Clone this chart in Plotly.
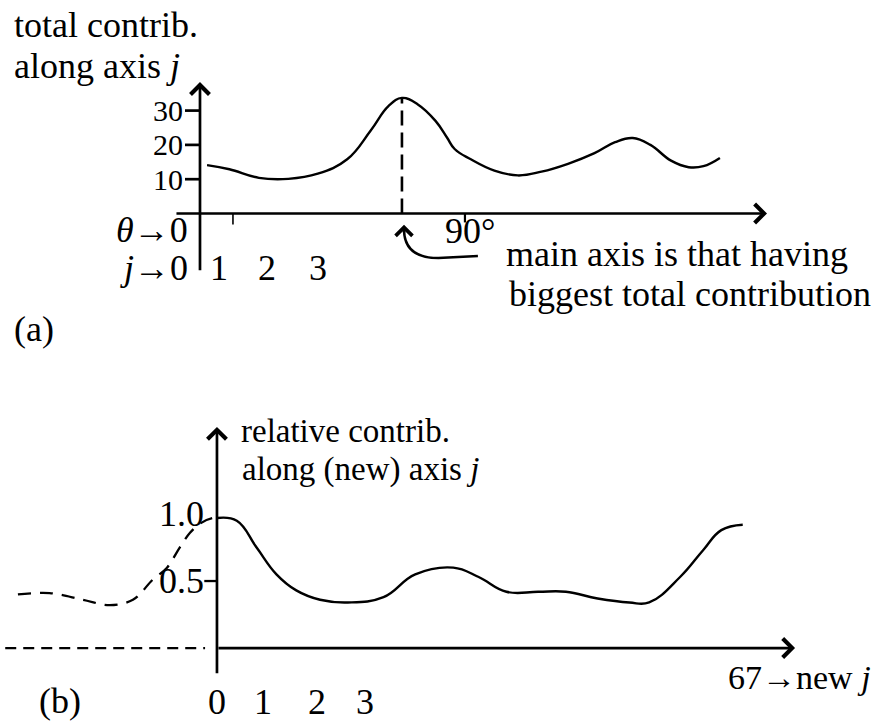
import plotly.graph_objects as go

# ---- (a) total contribution along axis j, as a function of rotation angle theta (deg)
theta_a = [2.4, 10, 20, 30, 40, 50, 58, 64, 68.6, 74, 80, 84, 86.5, 92, 100, 108, 116,
           125, 134, 141, 147, 153, 160, 166, 171, 176.6]
total_a = [14.1, 12.9, 10.4, 10.1, 11.6, 15.8, 24.2, 31.3, 33.7, 31.8, 27.0, 22.0, 18.8,
           15.8, 12.5, 11.1, 12.2, 14.5, 17.6, 20.8, 22.0, 20.0, 15.4, 13.5, 13.8, 16.2]
peak_theta = 68.6
peak_total = 33.7
ticks_a = [10, 20, 30]

# ---- (b) relative contribution along the new axis j
j_b = [0, 2.5, 5, 7.5, 10, 13, 16.5, 21, 25, 29.8, 33, 36.5, 40.5, 44, 48, 52, 54.5,
       58.4, 61.3, 63.6, 66.3]
rel_b = [0.97, 0.95, 0.75, 0.55, 0.43, 0.36, 0.34, 0.38, 0.55, 0.60, 0.53, 0.42, 0.42,
         0.42, 0.37, 0.34, 0.34, 0.53, 0.73, 0.88, 0.92]
# wrapped-around continuation to the left of j = 0
j_wrap = [-25.1, -21.1, -16.9, -13.5, -10.6, -8.1, -6.3, -4.7, -3.4, -2.1, -0.6, 0]
rel_wrap = [0.40, 0.41, 0.36, 0.32, 0.36, 0.51, 0.60, 0.75, 0.86, 0.93, 0.97, 0.97]
ticks_b = [1.0, 0.5]

W, H = 875, 722
FONT = "Liberation Serif"
FS = 36
INK = "black"


def px(x, y):
    """pixel position -> paper coordinates"""
    return x / W, 1 - y / H


fig = go.Figure()

fig.add_trace(go.Scatter(x=theta_a, y=total_a, mode="lines", xaxis="x", yaxis="y",
                         line=dict(color=INK, width=2.4, shape="spline", smoothing=1.2),
                         hoverinfo="skip"))
fig.add_trace(go.Scatter(x=[peak_theta, peak_theta], y=[0, peak_total], mode="lines",
                         xaxis="x", yaxis="y",
                         line=dict(color=INK, width=2.6, dash="15px,7px"), hoverinfo="skip"))
fig.add_trace(go.Scatter(x=j_b, y=rel_b, mode="lines", xaxis="x2", yaxis="y2",
                         line=dict(color=INK, width=2.4, shape="spline", smoothing=1.2),
                         hoverinfo="skip"))
fig.add_trace(go.Scatter(x=j_wrap, y=rel_wrap, mode="lines", xaxis="x2", yaxis="y2",
                         line=dict(color=INK, width=2.3, shape="spline", smoothing=1.0,
                                   dash="13px,9px"),
                         hoverinfo="skip"))

shapes = []
annotations = []


def arrow(xref, yref, tail, tip, width=2.7, size=1.35):
    annotations.append(dict(x=tip[0], y=tip[1], ax=tail[0], ay=tail[1],
                            xref=xref, yref=yref, axref=xref, ayref=yref,
                            text="", showarrow=True, arrowhead=4, arrowsize=size,
                            arrowwidth=width, arrowcolor=INK, standoff=0, startstandoff=0))


def seg(xref, yref, p0, p1, width=2.7, dash="solid"):
    shapes.append(dict(type="line", xref=xref, yref=yref, x0=p0[0], y0=p0[1],
                       x1=p1[0], y1=p1[1], line=dict(color=INK, width=width, dash=dash)))


def text(s, x, y, xanchor="left", size=FS, xref="paper", yref="paper"):
    if xref == "paper":
        x, y = px(x, y)
    annotations.append(dict(text=s, x=x, y=y, xref=xref, yref=yref, xanchor=xanchor,
                            yanchor="middle", showarrow=False, borderpad=0,
                            font=dict(family=FONT, size=size, color=INK)))


# ---- axes of (a)
arrow("x", "y", (-8.5, 0), (192.6, 0))
arrow("x", "y", (0, -17.0), (0, 38.3))
for t in ticks_a:
    seg("x", "y", (-5.1, t), (0, t))
    text(str(t), -5.4, t, xanchor="right", xref="x", yref="y", size=30)
seg("x", "y", (90, 0), (90, -2.6), width=2.2)
seg("x", "y", (11.2, 0), (11.2, -3.2), width=1.6)

# hook arrow pointing at the main axis
shapes.append(dict(type="path", xref="x", yref="y",
                   path="M 94.4,-12.4 L 81,-13.0 Q 69.6,-13.0 69.3,-5",
                   line=dict(color=INK, width=2.5)))
arrow("x", "y", (69.3, -6.0), (69.3, -3.3), width=2.5, size=1.3)

text("total contrib.", 13, 25)
text("along axis <i>j</i>", 13, 66)
text("<i>θ</i>→0", 189, 230, xanchor="right")
text("<i>j</i>→0", 189, 268, xanchor="right")
for lab, xp in zip(["1", "2", "3"], [219, 267, 318]):
    text(lab, xp, 268, xanchor="center")
text("90°", 470, 231, xanchor="center")
text("main axis is that having", 505, 254)
text("biggest total contribution", 508, 294)
text("(a)", 13, 329)

# ---- axes of (b)
arrow("x2", "y2", (0, 0), (72.9, 0))
arrow("x2", "y2", (0, -0.2), (0, 1.65))
seg("x2", "y2", (-26.7, 0), (-1.5, 0), width=2.3, dash="11px,7px")
seg("x2", "y2", (-1.6, 0.5), (0, 0.5), width=2.3)
for t in ticks_b:
    text(f"{t:.1f}", -1.5, t, xanchor="right", xref="x2", yref="y2")

text("relative contrib.", 240, 431, size=33)
text("along (new) axis <i>j</i>", 241, 469, size=33)
for lab, xp in zip(["0", "1", "2", "3"], [217, 263, 317, 365]):
    text(lab, xp, 702, xanchor="center")
text("67→new <i>j</i>", 727, 677, size=34)
text("(b)", 38, 701)

# data ranges chosen so one data unit spans the same pixels as the drawing
fig.update_layout(
    width=W, height=H, margin=dict(l=0, r=0, t=0, b=0),
    paper_bgcolor="white", plot_bgcolor="white", showlegend=False,
    xaxis=dict(domain=[0, 1], range=[-67.93, 229.28], visible=False, fixedrange=True),
    yaxis=dict(domain=[0.5, 1], range=[-43.0, 62.24], visible=False, fixedrange=True),
    xaxis2=dict(domain=[0, 1], range=[-27.36, 82.98], visible=False, fixedrange=True),
    yaxis2=dict(domain=[0, 0.5], range=[-0.552, 2.142], visible=False, fixedrange=True),
    shapes=shapes, annotations=annotations,
)

fig.write_html("out.html", config={"displayModeBar": False})
